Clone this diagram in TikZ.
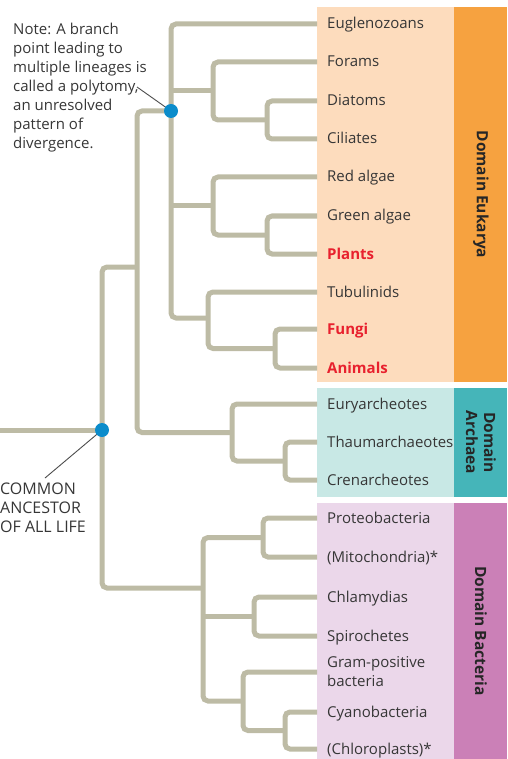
\documentclass[tikz,border=0pt]{standalone}
\usepackage{fontspec}
\setmainfont{Open Sans}
\definecolor{branchc}{HTML}{BDBBA5}
\definecolor{dotc}{HTML}{0B8CCB}
\definecolor{txt}{HTML}{363636}
\definecolor{redt}{HTML}{E8212E}
\definecolor{eukL}{HTML}{FDDCBD}
\definecolor{eukD}{HTML}{F6A240}
\definecolor{arcL}{HTML}{C8E8E5}
\definecolor{arcD}{HTML}{45B5B9}
\definecolor{bacL}{HTML}{EBD7EA}
\definecolor{bacD}{HTML}{CB80B7}
\begin{document}
\begin{tikzpicture}[x=1pt,y=-1pt,
  branch/.style={draw=branchc,line width=5pt,rounded corners=5pt},
  stem/.style={draw=branchc,line width=5pt},
  leaf/.style={anchor=base west,inner sep=0pt,text=txt,font=\fontsize{15}{19}\selectfont},
  hl/.style={leaf,text=redt,font=\fontsize{15}{19}\selectfont\bfseries},
  domlabel/.style={rotate=-90,text=black!85,font=\fontsize{15.5}{18}\selectfont\bfseries,align=center,inner sep=0pt},
  callout/.style={draw=black!70,line width=0.9pt},
  bdot/.style={circle,fill=dotc,inner sep=0pt,minimum size=14pt}]
\useasboundingbox (0,0) rectangle (507,759);
% panels
\fill[eukL] (317,7) rectangle (454,382);
\fill[eukD] (454,7) rectangle (507,382);
\fill[arcL] (317,388) rectangle (454,497);
\fill[arcD] (454,388) rectangle (507,497);
\fill[bacL] (317,503) rectangle (454,759);
\fill[bacD] (454,503) rectangle (507,759);
% leaf ends
\coordinate (l1) at (317,24);
\coordinate (l2) at (317,62);
\coordinate (l3) at (317,101);
\coordinate (l4) at (317,139);
\coordinate (l5) at (317,177);
\coordinate (l6) at (317,216);
\coordinate (l7) at (317,254);
\coordinate (l8) at (317,292);
\coordinate (l9) at (317,329);
\coordinate (l10) at (317,368);
\coordinate (a1) at (317,404);
\coordinate (a2) at (317,442);
\coordinate (a3) at (317,480);
\coordinate (b1) at (317,518);
\coordinate (b2) at (317,557);
\coordinate (b3) at (317,597);
\coordinate (b4) at (317,636);
\coordinate (b5) at (317,672);
\coordinate (b6) at (317,712);
\coordinate (b7) at (317,749);
% internal nodes
\coordinate (dc) at (267,120);
\coordinate (fdc) at (213,91);
\coordinate (gp) at (267,235);
\coordinate (rgp) at (213,206);
\coordinate (fa) at (275,348.5);
\coordinate (tfa) at (208,318);
\coordinate (poly) at (171,111);
\coordinate (tc) at (285,461);
\coordinate (arch) at (232,432.5);
\coordinate (ea) at (137,267);
\coordinate (pm) at (263,537.5);
\coordinate (cs) at (254,616.5);
\coordinate (cc) at (285,730.5);
\coordinate (gcc) at (243,701);
\coordinate (bact) at (203,588);
\coordinate (root) at (102,430);
\coordinate (rootin) at (0,430);
% brackets
\draw[branch] (l3) -| (dc) |- (l4);
\draw[branch] (l2) -| (fdc) |- (dc);
\draw[branch] (l6) -| (gp) |- (l7);
\draw[branch] (l5) -| (rgp) |- (gp);
\draw[branch] (l9) -| (fa) |- (l10);
\draw[branch] (l8) -| (tfa) |- (fa);
\draw[branch] (l1) -| (poly) |- (tfa);
\draw[stem] (poly |- fdc) -- (fdc);
\draw[stem] (poly |- rgp) -- (rgp);
\draw[branch] (a2) -| (tc) |- (a3);
\draw[branch] (a1) -| (arch) |- (tc);
\draw[branch] (poly) -| (ea) |- (arch);
\draw[branch] (b1) -| (pm) |- (b2);
\draw[branch] (b3) -| (cs) |- (b4);
\draw[branch] (b6) -| (cc) |- (b7);
\draw[branch] (b5) -| (gcc) |- (cc);
\draw[branch] (pm) -| (bact) |- (gcc);
\draw[stem] (bact |- cs) -- (cs);
\draw[branch] (ea) -| (root) |- (bact);
\draw[stem] (rootin) -- (root);
% callouts
\coordinate (notetip) at (137,87);
\coordinate (cattip) at (45,478);
\draw[callout] (notetip) -- (poly);
\draw[callout] (cattip) -- (root);
\node[bdot] (polydot) at (poly) {};
\node[bdot] (rootdot) at (root) {};
% notes
\node[anchor=north west,inner sep=0pt,align=left,text=txt,font=\fontsize{15}{19}\selectfont] (note) at (13,23)
 {Note: A branch\\point leading to\\multiple lineages is\\called a polytomy,\\an unresolved\\pattern of\\divergence.};
\node[anchor=north west,inner sep=0pt,align=left,text=txt,font=\fontsize{16}{19}\selectfont] (cal) at (0,483)
 {COMMON\\ANCESTOR\\OF ALL LIFE};
% leaf labels
\node[leaf] (t1) at (327,29) {Euglenozoans};
\node[leaf] (t2) at (327,67) {Forams};
\node[leaf] (t3) at (327,106) {Diatoms};
\node[leaf] (t4) at (327,144) {Ciliates};
\node[leaf] (t5) at (327,182) {Red algae};
\node[leaf] (t6) at (327,221) {Green algae};
\node[hl] (t7) at (327,259) {Plants};
\node[leaf] (t8) at (327,297) {Tubulinids};
\node[hl] (t9) at (327,334) {Fungi};
\node[hl] (t10) at (327,373) {Animals};
\node[leaf] (u1) at (327,409) {Euryarcheotes};
\node[leaf] (u2) at (327,447) {Thaumarchaeotes};
\node[leaf] (u3) at (327,485) {Crenarcheotes};
\node[leaf] (v1) at (327,523) {Proteobacteria};
\node[leaf] (v2) at (327,562) {(Mitochondria)*};
\node[leaf] (v3) at (327,602) {Chlamydias};
\node[leaf] (v4) at (327,641) {Spirochetes};
\node[leaf,anchor=west,align=left] (v5) at (327,672) {Gram-positive\\bacteria};
\node[leaf] (v6) at (327,717) {Cyanobacteria};
\node[leaf] (v7) at (327,754) {(Chloroplasts)*};
% domain labels
\node[domlabel] (de) at (481,194.5) {Domain Eukarya};
\node[domlabel] (da) at (481,442.5) {Domain\\Archaea};
\node[domlabel] (db) at (481,631) {Domain Bacteria};
\end{tikzpicture}
\end{document}
